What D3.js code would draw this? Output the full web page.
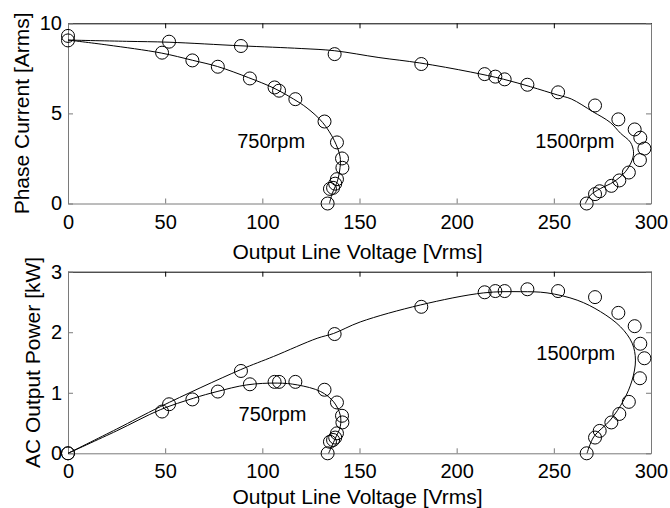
<!DOCTYPE html>
<html lang="en">
<head>
    <meta charset="UTF-8">
    <title>Phase current and AC output power</title>
    <script src="https://cdn.jsdelivr.net/npm/d3@7/dist/d3.min.js"></script>
    <style>
        body{margin:0;background:#fff;}
        text{font-family:"Liberation Sans",Arial,sans-serif;fill:#000;}
    </style>
</head>
<body>
    <svg width="670" height="508"></svg>
</body>
</html>
<script>

    // measured points (circles)
    var v750  = [0, 48.4, 64, 77.1, 93.6, 106.3, 108.6, 117, 132, 138.4, 141, 141.2, 138.4, 137.5, 136.4, 134.8, 133.6];
    var i750  = [9.05, 8.37, 7.94, 7.59, 6.94, 6.44, 6.26, 5.79, 4.55, 3.39, 2.5, 1.98, 1.35, 1.1, 0.87, 0.81, 0];
    var p750  = [0, 0.69, 0.89, 1.02, 1.14, 1.18, 1.18, 1.18, 1.05, 0.84, 0.62, 0.51, 0.33, 0.26, 0.22, 0.19, 0];

    var v1500 = [0, 52, 89, 137.2, 181.8, 214.4, 219.9, 224.7, 236.4, 252.2, 271.2, 283.2, 291.6, 294.5, 296.6, 294.3, 288.6, 283.7, 279.6, 273.6, 271.2, 266.9];
    var i1500 = [9.3, 8.98, 8.74, 8.29, 7.74, 7.18, 7.04, 6.89, 6.59, 6.17, 5.44, 4.67, 4.11, 3.65, 3.05, 2.41, 1.72, 1.28, 0.98, 0.68, 0.52, 0];
    var p1500 = [0, 0.81, 1.36, 1.97, 2.42, 2.66, 2.68, 2.68, 2.71, 2.68, 2.58, 2.32, 2.1, 1.81, 1.57, 1.24, 0.85, 0.65, 0.51, 0.37, 0.26, 0];

    // calculated curves (lines)
    var lv750i  = [0, 20, 48, 64, 77, 93, 106, 116, 123, 131, 137, 140, 140, 138.8, 136, 134.5];
    var li750   = [9.07, 8.8, 8.35, 7.95, 7.6, 6.98, 6.4, 5.8, 5.3, 4.5, 3.5, 2.6, 2.0, 1.3, 0.55, 0];
    var lv1500i = [0, 30, 52, 89, 120, 137, 160, 181, 207, 224, 238, 252, 259, 270, 279, 284.3, 289.4, 291, 290.3, 286.8, 280.8, 274, 268.8, 266.2];
    var li1500  = [9.07, 9.0, 8.95, 8.75, 8.6, 8.48, 8.1, 7.8, 7.3, 6.9, 6.48, 6.02, 5.8, 5.1, 4.5, 3.9, 3.4, 2.87, 2.41, 1.76, 1.2, 0.83, 0.46, 0];

    var lv750p  = [0, 25, 47.5, 64.6, 76.7, 92, 107.6, 118, 130, 136.7, 140.1, 140.1, 137.6, 134.1];
    var lp750   = [0, 0.37, 0.72, 0.91, 1.02, 1.13, 1.16, 1.13, 1.02, 0.85, 0.63, 0.44, 0.25, 0];
    var lv1500p = [0, 25, 47.5, 88.7, 105.8, 128.2, 136.7, 150.4, 181.3, 213.9, 232.8, 246.5, 262, 274, 284.3, 290.3, 292, 290.3, 286, 279.1, 270.5, 267.1];
    var lp1500  = [0, 0.4, 0.77, 1.38, 1.6, 1.9, 1.98, 2.17, 2.45, 2.65, 2.67, 2.65, 2.53, 2.34, 2.09, 1.82, 1.54, 1.21, 0.88, 0.55, 0.27, 0];

    var xTicks = [0, 50, 100, 150, 200, 250, 300];
    var iTicks = [0, 5, 10];
    var pTicks = [0, 1, 2, 3];

    var svg = d3.select('svg');
    var left = 68, right = 651;

    var x = d3.scaleLinear().domain([0, 300]).range([0, right - left]);
    var fmt = d3.format('d');

    function zip(a, b){
        return a.map(function(d,i){ return [d, b[i]]; });
    }

    function panel(top, bottom, yMax, yTicks, ylabel, labX, xlabY, curves, points, notes){
        var h = bottom - top;
        var y = d3.scaleLinear().domain([0, yMax]).range([h, 0]);
        var g = svg.append('g').attr('transform', 'translate(' + left + ',' + top + ')');

        // top edge
        g.append('g')
            .call(d3.axisTop(x).tickValues(xTicks).tickSize(-5).tickSizeOuter(0).tickFormat(''))
            .call(function(a){ a.selectAll('path,line').attr('stroke', '#000'); });
        // right edge
        g.append('g').attr('transform', 'translate(' + (right - left) + ',0)')
            .call(d3.axisRight(y).tickValues(yTicks).tickSize(-5).tickSizeOuter(0).tickFormat(''))
            .call(function(a){ a.selectAll('path,line').attr('stroke', '#7a7a7a'); });
        // bottom
        g.append('g').attr('transform', 'translate(0,' + h + ')')
            .call(d3.axisBottom(x).tickValues(xTicks).tickSize(-5).tickSizeOuter(0).tickPadding(11).tickFormat(fmt))
            .call(function(a){
                a.selectAll('path,line').attr('stroke', '#7a7a7a');
                a.selectAll('text').attr('font-size', 20).attr('font-family', '"Liberation Sans",Arial,sans-serif');
            });
        // left
        g.append('g')
            .call(d3.axisLeft(y).tickValues(yTicks).tickSize(-5).tickSizeOuter(0).tickPadding(6).tickFormat(fmt))
            .call(function(a){
                a.selectAll('path,line').attr('stroke', '#7a7a7a');
                a.selectAll('text').attr('font-size', 20).attr('font-family', '"Liberation Sans",Arial,sans-serif');
            });

        var line = d3.line()
            .x(function(d){ return x(d[0]); })
            .y(function(d){ return y(d[1]); })
            .curve(d3.curveCatmullRom);

        g.selectAll('path.curve')
            .data(curves)
            .enter().append('path')
            .attr('class', 'curve')
            .attr('d', line)
            .attr('fill', 'none')
            .attr('stroke', '#000')
            .attr('stroke-width', 1);

        var all = [].concat.apply([], points);
        g.selectAll('circle')
            .data(all)
            .enter().append('circle')
            .attr('cx', function(d){ return x(d[0]); })
            .attr('cy', function(d){ return y(d[1]); })
            .attr('r', 6.5)
            .attr('fill', 'none')
            .attr('stroke', '#000')
            .attr('stroke-width', 1);

        g.selectAll('text.note')
            .data(notes)
            .enter().append('text')
            .attr('class', 'note')
            .attr('x', function(d){ return x(d[0]); })
            .attr('y', function(d){ return y(d[1]); })
            .attr('font-size', 20)
            .text(function(d){ return d[2]; });

        svg.append('text')
            .attr('transform', 'translate(' + labX + ',' + (top + h / 2) + ') rotate(-90)')
            .attr('text-anchor', 'middle')
            .attr('font-size', 21)
            .text(ylabel);

        svg.append('text')
            .attr('x', (left + right) / 2 - 2)
            .attr('y', xlabY)
            .attr('text-anchor', 'middle')
            .attr('font-size', 21)
            .text('Output Line Voltage [Vrms]');
    }

    panel(23.3, 203.5, 10, iTicks, 'Phase Current [Arms]', 29, 259,
        [zip(lv750i, li750), zip(lv1500i, li1500)],
        [zip(v750, i750), zip(v1500, i1500)],
        [[87.1, 3.07, '750rpm'], [240.5, 3.07, '1500rpm']]);

    panel(271.7, 453.3, 3, pTicks, 'AC Output Power [kW]', 39.5, 503.5,
        [zip(lv750p, lp750), zip(lv1500p, lp1500)],
        [zip(v750, p750), zip(v1500, p1500)],
        [[87.8, 0.53, '750rpm'], [241, 1.54, '1500rpm']]);

</script>
